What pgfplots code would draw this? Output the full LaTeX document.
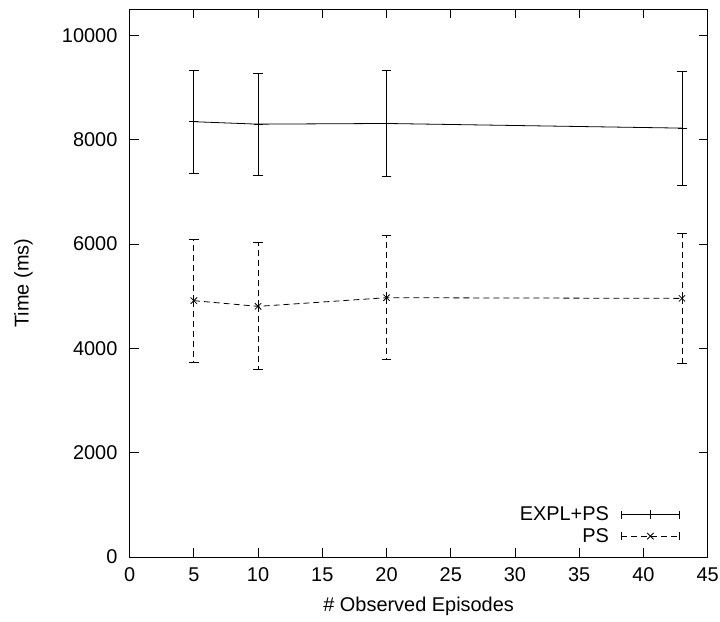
\documentclass[border=0pt]{standalone}
\usepackage{pgfplots}
\pgfplotsset{compat=1.18}
\usepackage{pgfplotstable}
\usepackage{fontspec}
\setmainfont{Liberation Sans}

\pgfplotstableread{
x y ep em
5 8345 986 990
10 8298 975 975
20 8311 1014 1007
43 8222 1090 1103
}\explps
\pgfplotstableread{
x y ep em
5 4914 1166 1179
10 4805 1224 1216
20 4971 1192 1185
43 4958 1243 1243
}\ps

\begin{document}
\begin{tikzpicture}[font=\fontsize{20}{24}\selectfont]
\begin{axis}[name=ax, scale only axis, width=578.1bp, height=547.7bp,
  xmin=0, xmax=45, ymin=0, ymax=10500,
  xtick={0,5,...,45}, ytick={0,2000,...,10000},
  tick align=inside, major tick length=9bp,
  axis line style={line width=1bp},
  every tick/.style={black, line width=1bp},
  /pgf/number format/assume math mode=true,
  /pgf/number format/1000 sep={},
  scaled y ticks=false,
  xticklabel style={anchor=center, inner sep=0pt, yshift=-18bp},
  yticklabel style={anchor=east, inner sep=0pt, xshift=-12bp},
  xlabel={\# Observed Episodes}, ylabel={Time (ms)},
  xlabel style={at={(axis description cs:0.5,-0.0895)}, anchor=center, inner sep=0pt},
  ylabel style={at={(axis description cs:-0.1835,0.5)}, anchor=center, inner sep=0pt},
  legend plot pos=right,
  legend style={draw=none, fill=none, at={(axis description cs:0.952,0.0237)}, anchor=south east,
    inner sep=0pt, row sep=6bp, column sep=12bp, nodes={inner sep=0pt, anchor=east}},
  legend image code/.code={
    \draw[#1, mark=none] (0bp,0bp) -- (58bp,0bp);
    \draw[#1, mark=none, solid] (0bp,-4bp) -- (0bp,4bp) (58bp,-4bp) -- (58bp,4bp);
    \draw[#1] plot coordinates {(29bp,0bp)};
  },
]
\addplot[black, line width=0.8bp, mark=+, mark size=4.5bp,
  error bars/.cd, y dir=both, y explicit,
  error mark options={rotate=90, mark size=4.8bp, line width=0.8bp},
  error bar style={line width=0.8bp}]
  table[x=x, y=y, y error plus=ep, y error minus=em] {\explps};
\addlegendentry{EXPL+PS}
\addplot[black, line width=0.8bp, dash pattern=on 6bp off 4bp, mark=x, mark size=4.5bp, mark options={solid},
  error bars/.cd, y dir=both, y explicit,
  error mark options={rotate=90, mark size=4.8bp, line width=0.8bp, solid},
  error bar style={line width=0.8bp, dash pattern=on 6bp off 4bp}]
  table[x=x, y=y, y error plus=ep, y error minus=em] {\ps};
\addlegendentry{PS}
\end{axis}
\pgfresetboundingbox
\path ([shift={(-129.6bp,-65bp)}]ax.south west) rectangle ([shift={(12.3bp,9.3bp)}]ax.north east);
\end{tikzpicture}
\end{document}
